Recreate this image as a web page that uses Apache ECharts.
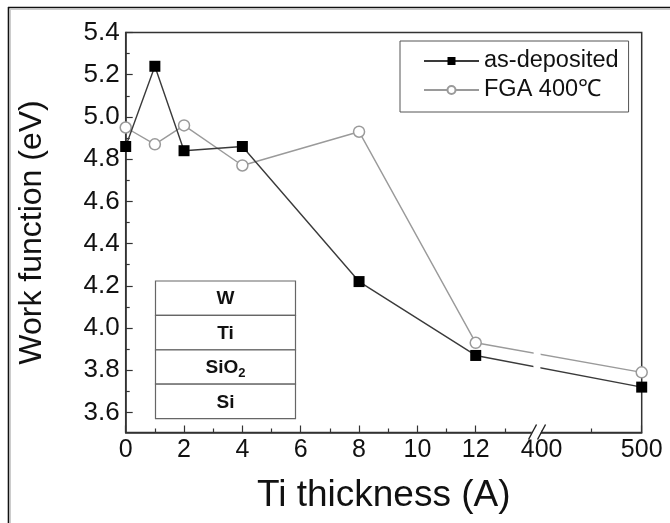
<!DOCTYPE html>
<html>
<head>
<meta charset="utf-8">
<script src="https://cdn.jsdelivr.net/npm/echarts@6/dist/echarts.min.js"></script>
<style>
  html, body { margin: 0; padding: 0; background: #fff; }
  #main { width: 670px; height: 523px; }
</style>
</head>
<body>
<div id="main"></div>
<script>
// Ti thickness (A) -> work function (eV)
const thickness = [0, 1, 2, 4, 8, 12, 500];
const asDeposited = [4.86, 5.24, 4.84, 4.86, 4.22, 3.87, 3.72];
const fga400 = [4.95, 4.87, 4.96, 4.77, 4.93, 3.93, 3.79];

const xMajorTicks = [0, 2, 4, 6, 8, 10, 12, 400, 500];
const xMinorTicks = [1, 3, 5, 7, 9, 11, 13, 450];
const yMajorTicks = [3.6, 3.8, 4.0, 4.2, 4.4, 4.6, 4.8, 5.0, 5.2, 5.4];
const yMinorTicks = [3.7, 3.9, 4.1, 4.3, 4.5, 4.7, 4.9, 5.1, 5.3];
const stackLayers = ['W', 'Ti', 'SiO{sub|2}', 'Si'];

// broken x axis: 0..13 linear, then 400..500 squeezed after the break
const BREAK_START = 400;
const BREAK_POS = 14.26;
const TAIL_SCALE = 0.0343;
function toAxis(x) {
  return x <= 13 ? x : BREAK_POS + (x - BREAK_START) * TAIL_SCALE;
}
function fromAxis(u) {
  return u <= 13.5 ? Math.round(u) : Math.round(BREAK_START + (u - BREAK_POS) / TAIL_SCALE);
}
const X_MAX = toAxis(500);

const font = "'Liberation Sans', Arial, sans-serif";
const axisColor = '#333';

const chart = echarts.init(document.getElementById('main'));

function pairs(ys) {
  return thickness.map((x, i) => [toAxis(x), ys[i]]);
}

chart.setOption({
  animation: false,
  backgroundColor: '#fff',
  textStyle: { fontFamily: font },
  grid: {
    show: true,
    left: 125.7,
    right: 28.3,
    top: 32.5,
    bottom: 90.5,
    borderColor: axisColor,
    borderWidth: 1.5,
    backgroundColor: 'transparent'
  },
  legend: {
    orient: 'vertical',
    left: 400,
    top: 41,
    padding: [8, 10, 10, 23],
    itemGap: 5,
    itemWidth: 55,
    itemHeight: 10,
    borderColor: '#555',
    borderWidth: 1,
    textStyle: { fontSize: 23.5, color: '#111', fontFamily: font },
    data: ['as-deposited', 'FGA 400℃']
  },
  xAxis: [
    {
      type: 'value',
      min: 0,
      max: X_MAX,
      name: 'Ti thickness (A)',
      nameLocation: 'middle',
      nameGap: 45,
      nameTextStyle: { fontSize: 37, color: '#111', fontFamily: font },
      axisLine: { lineStyle: { color: axisColor, width: 1.5 } },
      axisTick: {
        inside: true,
        length: 7,
        lineStyle: { color: axisColor, width: 1.2 },
        customValues: xMajorTicks.map(toAxis)
      },
      axisLabel: {
        fontSize: 25,
        color: '#111',
        margin: 5,
        customValues: xMajorTicks.map(toAxis),
        formatter: v => String(fromAxis(v))
      },
      splitLine: { show: false }
    },
    {
      type: 'value',
      min: 0,
      max: X_MAX,
      position: 'bottom',
      axisLine: { show: false },
      axisTick: {
        inside: true,
        length: 4,
        lineStyle: { color: axisColor, width: 1.2 },
        customValues: xMinorTicks.map(toAxis)
      },
      axisLabel: { show: false },
      splitLine: { show: false }
    }
  ],
  yAxis: [
    {
      type: 'value',
      min: 3.505,
      max: 5.4,
      name: 'Work function (eV)',
      nameLocation: 'middle',
      nameGap: 78,
      nameTextStyle: { fontSize: 32, color: '#111', fontFamily: font },
      axisLine: { show: true, lineStyle: { color: axisColor, width: 1.5 } },
      axisTick: {
        show: true,
        inside: true,
        length: 7,
        lineStyle: { color: axisColor, width: 1.2 },
        customValues: yMajorTicks
      },
      axisLabel: {
        fontSize: 26,
        color: '#111',
        margin: 6,
        customValues: yMajorTicks,
        formatter: v => v.toFixed(1)
      },
      splitLine: { show: false }
    },
    {
      type: 'value',
      min: 3.505,
      max: 5.4,
      position: 'left',
      axisLine: { show: false },
      axisTick: {
        show: true,
        inside: true,
        length: 4,
        lineStyle: { color: axisColor, width: 1.2 },
        customValues: yMinorTicks
      },
      axisLabel: { show: false },
      splitLine: { show: false }
    }
  ],
  series: [
    {
      name: 'FGA 400℃',
      type: 'line',
      data: pairs(fga400),
      symbol: 'circle',
      symbolSize: 11,
      clip: false,
      lineStyle: { color: '#9a9a9a', width: 1.4 },
      itemStyle: { color: '#fff', borderColor: '#9a9a9a', borderWidth: 1.5 },
      z: 3
    },
    {
      name: 'as-deposited',
      type: 'line',
      data: pairs(asDeposited),
      symbol: 'rect',
      symbolSize: 11,
      clip: false,
      lineStyle: { color: '#3a3a3a', width: 1.4 },
      itemStyle: { color: '#000', borderColor: '#000', borderWidth: 0 },
      z: 4
    }
  ]
});

// annotations: outer frame, axis break, layer stack inset
function px(u, y) {
  return chart.convertToPixel({ xAxisIndex: 0, yAxisIndex: 0 }, [u, y]);
}
const bx = px(14.05, 3.505);
const axisY = bx[1];
const cx = bx[0];
const graphics = [];

// white band through the data lines at the break
graphics.push({
  type: 'polygon',
  z: 50,
  shape: { points: [[cx - 3, 420], [cx + 4, 420], [cx + 4 + 5, 120], [cx - 3 + 5, 120]] },
  style: { fill: '#fff' }
});
// the // mark on the x axis
graphics.push({
  type: 'polygon',
  z: 50,
  shape: { points: [[cx - 7, axisY + 7], [cx + 2, axisY + 7], [cx + 9, axisY - 8], [cx, axisY - 8]] },
  style: { fill: '#fff' }
});
[-7, 2].forEach(d => {
  graphics.push({
    type: 'line',
    z: 51,
    shape: { x1: cx + d, y1: axisY + 7, x2: cx + d + 8, y2: axisY - 8 },
    style: { stroke: '#222', lineWidth: 1.4 }
  });
});

// outer frame (top and left only)
graphics.push({ type: 'line', z: 60, shape: { x1: 8, y1: 7.5, x2: 670, y2: 7.5 }, style: { stroke: '#111', lineWidth: 1.6 } });
graphics.push({ type: 'line', z: 60, shape: { x1: 8.5, y1: 7, x2: 8.5, y2: 523 }, style: { stroke: '#111', lineWidth: 1.6 } });
graphics.push({ type: 'line', z: 60, shape: { x1: 10, y1: 9.5, x2: 670, y2: 9.5 }, style: { stroke: '#ccc', lineWidth: 1 } });
graphics.push({ type: 'line', z: 60, shape: { x1: 10.5, y1: 9, x2: 10.5, y2: 523 }, style: { stroke: '#ccc', lineWidth: 1 } });

// layer stack inset
const insetLeft = 155.5, insetTop = 281, insetW = 140, rowH = 34.4;
stackLayers.forEach((label, i) => {
  graphics.push({
    type: 'rect',
    z: 20,
    shape: { x: insetLeft, y: insetTop + i * rowH, width: insetW, height: rowH },
    style: { fill: '#fff', stroke: '#666', lineWidth: 1.2 }
  });
  graphics.push({
    type: 'text',
    z: 21,
    x: insetLeft + insetW / 2,
    y: insetTop + i * rowH + rowH / 2 + 1,
    style: {
      text: label,
      align: 'center',
      verticalAlign: 'middle',
      font: 'bold 19px ' + font,
      fill: '#111',
      rich: {
        sub: { font: 'bold 13px ' + font, fill: '#111', padding: [11, 0, 0, 0] }
      }
    }
  });
});

chart.setOption({ graphic: graphics });
</script>
</body>
</html>
